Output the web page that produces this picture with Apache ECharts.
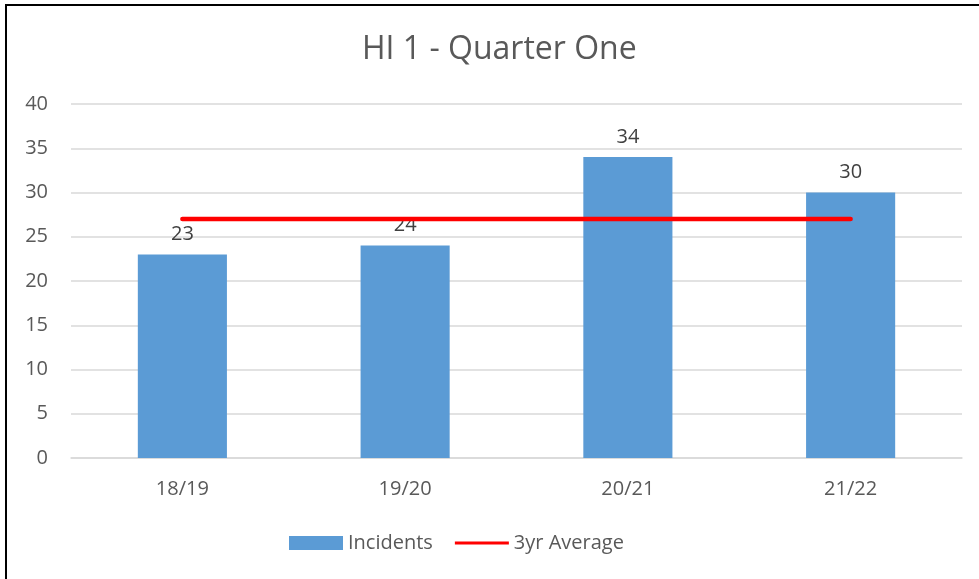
<!DOCTYPE html>
<html>
<head>
<meta charset="utf-8">
<script src="https://cdn.jsdelivr.net/npm/echarts@6/dist/echarts.min.js"></script>
<style>
html,body{margin:0;padding:0;background:#fff;}
#wrap{position:relative;width:979px;height:579px;overflow:hidden;}
#chart{position:absolute;left:0;top:0;width:979px;height:579px;}
#frame{position:absolute;left:5px;top:4px;width:1000px;height:600px;border-left:2px solid #000;border-top:2px solid #000;pointer-events:none;}
</style>
</head>
<body>
<div id="wrap"><div id="chart"></div><div id="frame"></div></div>
<script>
const title = 'HI 1 - Quarter One';
const categories = ['18/19', '19/20', '20/21', '21/22'];
const incidents = [23, 24, 34, 30];
const average = [27, 27, 27, 27];
const yTicks = { min: 0, max: 40, interval: 5 };

const font = 'Open Sans';
const textColor = '#595959';
const chart = echarts.init(document.getElementById('chart'), null, { renderer: 'canvas' });
chart.setOption({
  animation: false,
  backgroundColor: '#fff',
  title: {
    text: title, left: 357, top: 29,
    textStyle: { fontFamily: font, fontSize: 32, fontWeight: 'normal', color: textColor }
  },
  grid: { left: 71, right: 17, top: 104, bottom: 121, containLabel: false },
  legend: {
    bottom: 21, left: 284, itemGap: 22, itemWidth: 54, itemHeight: 14,
    textStyle: { fontFamily: font, fontSize: 20, color: textColor, padding: [0, 0, 0, 0] },
    data: [
      { name: 'Incidents', icon: 'rect' },
      { name: '3yr Average', icon: 'path://M0,5 L100,5 L100,11 L0,11 Z' }
    ]
  },
  xAxis: {
    type: 'category', data: categories,
    axisLine: { show: true, lineStyle: { color: '#d9d9d9', width: 1.5 } },
    axisTick: { show: false },
    axisLabel: { fontFamily: font, fontSize: 20, color: textColor, margin: 21 }
  },
  yAxis: {
    type: 'value', min: yTicks.min, max: yTicks.max, interval: yTicks.interval,
    axisLine: { show: false }, axisTick: { show: false },
    splitLine: { lineStyle: { color: '#d9d9d9', width: 1.5 } },
    axisLabel: { fontFamily: font, fontSize: 20, color: textColor, margin: 23 }
  },
  series: [
    {
      name: 'Incidents', type: 'bar', data: incidents, barWidth: '40%',
      itemStyle: { color: '#5b9bd5' },
      label: { show: true, position: 'top', distance: 10, fontFamily: font, fontSize: 20, color: '#404040' }
    },
    {
      name: '3yr Average', type: 'line', data: average, symbol: 'none',
      lineStyle: { color: '#ff0000', width: 4.5, cap: 'round' },
      itemStyle: { color: '#ff0000' }
    }
  ]
});
</script>
</body>
</html>
